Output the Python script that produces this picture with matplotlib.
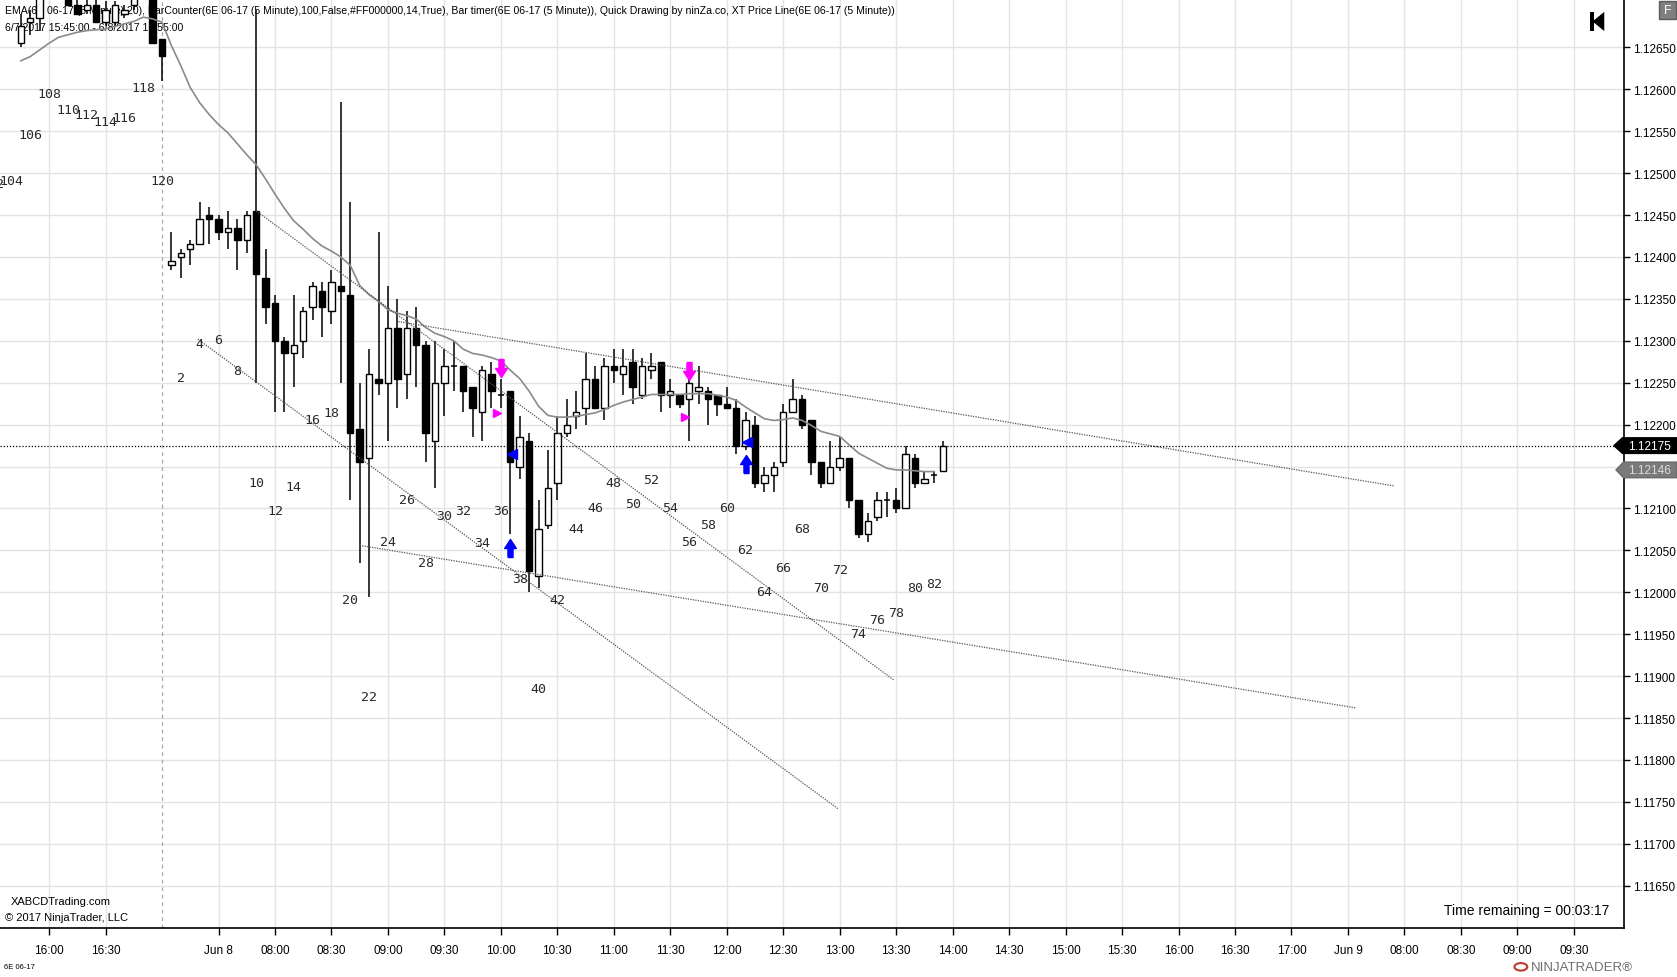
import matplotlib
matplotlib.use("Agg")
import matplotlib.pyplot as plt
import matplotlib.transforms as mtransforms
from matplotlib.patches import Polygon, Rectangle, Circle
from matplotlib.path import Path

# layout measured on the reference (displayed pixels)
W, H = 1568.0, 914.5

# ---- 5 minute bars, 6E 06-17 (bar index 0 = 6/7 15:45, 16 = 6/8 07:05)
opens = [1.12655, 1.12680, 1.12685, 1.12720, 1.12735, 1.12720, 1.12700, 1.12695,
         1.12700, 1.12680, 1.12680, 1.12690, 1.12700, 1.12720, 1.12725, 1.12660,
         1.12390, 1.12400, 1.12410, 1.12415, 1.12450, 1.12445, 1.12430, 1.12435,
         1.12420, 1.12455, 1.12375, 1.12345, 1.12300, 1.12285, 1.12300, 1.12340,
         1.12360, 1.12335, 1.12365, 1.12355, 1.12195, 1.12160, 1.12255, 1.12250,
         1.12315, 1.12260, 1.12315, 1.12295, 1.12180, 1.12250, 1.12270, 1.12270,
         1.12245, 1.12215, 1.12260, 1.12235, 1.12240, 1.12150, 1.12180, 1.12020,
         1.12080, 1.12130, 1.12190, 1.12210, 1.12220, 1.12255, 1.12220, 1.12270,
         1.12260, 1.12275, 1.12235, 1.12265, 1.12275, 1.12235, 1.12235, 1.12230,
         1.12240, 1.12240, 1.12235, 1.12225, 1.12220, 1.12175, 1.12200, 1.12130,
         1.12140, 1.12155, 1.12215, 1.12230, 1.12205, 1.12155, 1.12130, 1.12150,
         1.12160, 1.12110, 1.12070, 1.12090, 1.12110, 1.12110, 1.12100, 1.12160,
         1.12130, 1.12140, 1.12145]
highs = [1.12690, 1.12695, 1.12730, 1.12745, 1.12745, 1.12730, 1.12715, 1.12715,
         1.12715, 1.12705, 1.12705, 1.12700, 1.12730, 1.12740, 1.12740, 1.12660,
         1.12430, 1.12410, 1.12420, 1.12465, 1.12460, 1.12450, 1.12455, 1.12445,
         1.12455, 1.12695, 1.12410, 1.12355, 1.12305, 1.12355, 1.12340, 1.12370,
         1.12370, 1.12385, 1.12585, 1.12465, 1.12250, 1.12290, 1.12430, 1.12365,
         1.12350, 1.12335, 1.12340, 1.12300, 1.12300, 1.12290, 1.12300, 1.12270,
         1.12245, 1.12270, 1.12275, 1.12255, 1.12240, 1.12210, 1.12190, 1.12110,
         1.12170, 1.12210, 1.12230, 1.12240, 1.12285, 1.12270, 1.12280, 1.12290,
         1.12290, 1.12290, 1.12280, 1.12285, 1.12275, 1.12255, 1.12235, 1.12270,
         1.12270, 1.12245, 1.12235, 1.12245, 1.12230, 1.12215, 1.12210, 1.12150,
         1.12155, 1.12225, 1.12255, 1.12235, 1.12205, 1.12155, 1.12180, 1.12185,
         1.12160, 1.12110, 1.12095, 1.12120, 1.12120, 1.12125, 1.12175, 1.12165,
         1.12145, 1.12145, 1.12180]
lows = [1.12650, 1.12665, 1.12670, 1.12715, 1.12715, 1.12700, 1.12690, 1.12690,
        1.12680, 1.12675, 1.12675, 1.12685, 1.12695, 1.12715, 1.12655, 1.12610,
        1.12385, 1.12375, 1.12390, 1.12415, 1.12415, 1.12420, 1.12410, 1.12385,
        1.12405, 1.12250, 1.12320, 1.12215, 1.12215, 1.12245, 1.12280, 1.12325,
        1.12305, 1.12320, 1.12250, 1.12110, 1.12035, 1.11995, 1.12235, 1.12180,
        1.12220, 1.12230, 1.12245, 1.12155, 1.12125, 1.12210, 1.12240, 1.12215,
        1.12185, 1.12180, 1.12220, 1.12220, 1.12070, 1.12135, 1.12000, 1.12005,
        1.12075, 1.12110, 1.12185, 1.12195, 1.12200, 1.12220, 1.12205, 1.12250,
        1.12235, 1.12225, 1.12230, 1.12255, 1.12215, 1.12220, 1.12220, 1.12180,
        1.12225, 1.12200, 1.12210, 1.12220, 1.12165, 1.12170, 1.12125, 1.12120,
        1.12120, 1.12150, 1.12215, 1.12195, 1.12140, 1.12125, 1.12130, 1.12145,
        1.12100, 1.12065, 1.12060, 1.12085, 1.12090, 1.12095, 1.12100, 1.12125,
        1.12130, 1.12130, 1.12145]
closes = [1.12675, 1.12685, 1.12720, 1.12735, 1.12720, 1.12700, 1.12690, 1.12700,
          1.12680, 1.12695, 1.12700, 1.12695, 1.12720, 1.12730, 1.12655, 1.12640,
          1.12395, 1.12405, 1.12415, 1.12445, 1.12445, 1.12430, 1.12435, 1.12420,
          1.12450, 1.12380, 1.12340, 1.12300, 1.12285, 1.12295, 1.12335, 1.12365,
          1.12340, 1.12370, 1.12360, 1.12190, 1.12155, 1.12260, 1.12250, 1.12315,
          1.12255, 1.12315, 1.12295, 1.12190, 1.12250, 1.12270, 1.12270, 1.12240,
          1.12220, 1.12265, 1.12240, 1.12235, 1.12155, 1.12185, 1.12025, 1.12075,
          1.12125, 1.12190, 1.12200, 1.12215, 1.12255, 1.12220, 1.12270, 1.12265,
          1.12270, 1.12245, 1.12270, 1.12270, 1.12235, 1.12240, 1.12225, 1.12250,
          1.12245, 1.12230, 1.12225, 1.12220, 1.12175, 1.12205, 1.12130, 1.12140,
          1.12150, 1.12215, 1.12230, 1.12200, 1.12155, 1.12130, 1.12150, 1.12160,
          1.12110, 1.12070, 1.12085, 1.12110, 1.12110, 1.12100, 1.12165, 1.12130,
          1.12135, 1.12140, 1.12175]

# EMA(20), bars 0..97
ema = [1.12634, 1.12639, 1.12647, 1.12655, 1.12662, 1.12665, 1.12668, 1.12670,
       1.12671, 1.12672, 1.12675, 1.12678, 1.12681, 1.12686, 1.12684, 1.12680,
       1.12652, 1.12628, 1.12602, 1.12584, 1.12570, 1.12558, 1.12548, 1.12535,
       1.12522, 1.12510, 1.12493, 1.12475, 1.12458, 1.12443, 1.12433, 1.12422,
       1.12413, 1.12407, 1.12400, 1.12390, 1.12366, 1.12355, 1.12347, 1.12337,
       1.12333, 1.12330, 1.12326, 1.12316, 1.12309, 1.12305, 1.12300, 1.12290,
       1.12285, 1.12283, 1.12280, 1.12276, 1.12265, 1.12255, 1.12240, 1.12222,
       1.12211, 1.12209, 1.12209, 1.12210, 1.12212, 1.12214, 1.12218, 1.12223,
       1.12227, 1.12230, 1.12233, 1.12236, 1.12236, 1.12236, 1.12236, 1.12237,
       1.12237, 1.12237, 1.12235, 1.12233, 1.12229, 1.12221, 1.12214, 1.12207,
       1.12205, 1.12206, 1.12208, 1.12205, 1.12199, 1.12192, 1.12189, 1.12186,
       1.12176, 1.12166, 1.12160, 1.12154, 1.12148, 1.12146, 1.12146, 1.12145,
       1.12144, 1.12144]

# bar counter labels: (label, bar index, price where the label sits)
count_labels = [102, 104, 106, 108, 110, 112, 114, 116, 118, 120] + list(range(2, 84, 2))
count_bars = [-3, -1, 1, 3, 5, 7, 9, 11, 13, 15] + [n + 15 for n in range(2, 84, 2)]
count_prices = [1.12488, 1.12491, 1.12546, 1.12595, 1.12576, 1.12570, 1.12562, 1.12566,
                1.12602, 1.12491,
                1.12256, 1.12297, 1.12301, 1.12265, 1.12131, 1.12097, 1.12126, 1.12206,
                1.12215, 1.11991, 1.11876, 1.12061, 1.12111, 1.12035, 1.12092, 1.12097,
                1.12060, 1.12097, 1.12016, 1.11885, 1.11991, 1.12076, 1.12101, 1.12131,
                1.12106, 1.12135, 1.12101, 1.12061, 1.12081, 1.12101, 1.12051, 1.12001,
                1.12030, 1.12076, 1.12006, 1.12027, 1.11951, 1.11967, 1.11976, 1.12006,
                1.12010]

# quick drawing objects (bar index, price)
trend_lines = [((25.0, 1.12455), (92.8, 1.11895)),
               ((18.8, 1.12302), (86.8, 1.11742)),
               ((40.1, 1.12323), (145.85, 1.12127)),
               ((36.0, 1.12056), (141.9, 1.11862))]
down_arrows = [(51.0, 1.12268), (71.0, 1.12264)]
up_arrows = [(52.0, 1.12053), (77.0, 1.12153)]
pink_marks = [(50.6, 1.12214), (70.6, 1.12209)]
blue_marks = [(52.2, 1.12165), (77.2, 1.12179)]

last_price = 1.12175
ema_last = 1.12146

time_labels = ['16:00', '16:30', None, 'Jun 8', '08:00', '08:30', '09:00', '09:30',
               '10:00', '10:30', '11:00', '11:30', '12:00', '12:30', '13:00', '13:30',
               '14:00', '14:30', '15:00', '15:30', '16:00', '16:30', '17:00', 'Jun 9',
               '08:00', '08:30', '09:00', '09:30']
session_break = 15

header = ("EMA(6E 06-17 (5 Minute),20), BarCounter(6E 06-17 (5 Minute),100,False,#FF000000,14,True), "
          "Bar timer(6E 06-17 (5 Minute)), Quick Drawing by ninZa.co, XT Price Line(6E 06-17 (5 Minute))")
header2 = "6/7/2017 15:45:00 - 6/8/2017 13:55:00"

UI = ['Liberation Sans', 'DejaVu Sans']
plt.rcParams['font.family'] = UI

fig = plt.figure(figsize=(16.77, 9.78), dpi=100)
fig.patch.set_facecolor('white')
ax = fig.add_axes([0, 1 - 869 / H, 1518 / W, 869 / H])
ax.set_facecolor('white')

ax.set_xlim(-2.216, 170.28)
ax.set_ylim(1.115992, 1.127077)

# grid
price_ticks = [1.1165 + 0.0005 * k for k in range(21)]
for p in price_ticks:
    ax.axhline(p, color='#e3e3e3', lw=1.0, zorder=0)
tick_pos, tick_txt = [], []
for k, lab in enumerate(time_labels):
    b = 3 + 6 * k
    if lab is None:
        continue
    tick_pos.append(b)
    tick_txt.append(lab)
    ax.axvline(b, color='#e3e3e3', lw=1.0, zorder=0)
ax.axvline(session_break, color='#a8a8a8', lw=0.9, ls=(0, (3, 3)), zorder=0.5)

# candles
bw = 0.68
for i, (o, h, l, c) in enumerate(zip(opens, highs, lows, closes)):
    ax.vlines(i, l, h, color='black', lw=1.1, zorder=3)
    if abs(c - o) < 1e-9:
        ax.hlines(o, i - bw / 2, i + bw / 2, color='black', lw=1.1, zorder=4)
    else:
        fc = 'white' if c > o else 'black'
        ax.add_patch(Rectangle((i - bw / 2, min(o, c)), bw, abs(c - o),
                               facecolor=fc, edgecolor='black', lw=1.0, zorder=4))

# EMA
ax.plot(range(len(ema)), ema, color='#8a8a8a', lw=1.2, zorder=5)

# trend lines
for (x0, y0), (x1, y1) in trend_lines:
    ax.plot([x0, x1], [y0, y1], color='#555555', lw=0.9, ls=(0, (1, 1)), zorder=5)

# price line
ax.axhline(last_price, color='black', lw=0.9, ls=(0, (1, 1.5)), zorder=5)

# markers
down = Path([(-0.28, 1), (0.28, 1), (0.28, 0), (0.65, 0), (0, -1), (-0.65, 0), (-0.28, 0), (-0.28, 1)])
up = Path([(-0.28, -1), (0.28, -1), (0.28, 0), (0.65, 0), (0, 1), (-0.65, 0), (-0.28, 0), (-0.28, -1)])
ax.plot([a for a, _ in down_arrows], [b for _, b in down_arrows], ls='none', marker=down,
        ms=13, color='#ff00ff', mec='#ff00ff', zorder=6)
ax.plot([a for a, _ in up_arrows], [b for _, b in up_arrows], ls='none', marker=up,
        ms=13, color='#0000ff', mec='#0000ff', zorder=6)
ax.plot([a for a, _ in pink_marks], [b for _, b in pink_marks], ls='none', marker='>',
        ms=6, color='#ff00ff', mec='#ff00ff', zorder=6)
ax.plot([a for a, _ in blue_marks], [b for _, b in blue_marks], ls='none', marker='<',
        ms=7, color='#0000ff', mec='#0000ff', zorder=6)

# bar counter
for n, b, p in zip(count_labels, count_bars, count_prices):
    ax.text(b, p, str(n), ha='center', va='center', fontsize=9.5,
            family=['DejaVu Sans Mono'], color='#2a2a2a', zorder=6, clip_on=True)

# axes styling
for s in ['top', 'left']:
    ax.spines[s].set_visible(False)
ax.spines['right'].set_linewidth(1.2)
ax.spines['bottom'].set_linewidth(1.2)
ax.yaxis.tick_right()
ax.set_yticks(price_ticks)
# the 1.12150 label sits under the EMA value box
ax.set_yticklabels(['' if abs(p - 1.1215) < 1e-7 else '%.5f' % p for p in price_ticks])
ax.set_xticks(tick_pos)
ax.set_xticklabels(tick_txt)
ax.tick_params(axis='y', direction='out', length=4, width=1, labelsize=8.5, pad=3)
ax.tick_params(axis='x', direction='out', length=5, width=1, labelsize=8.5, pad=6)

# price axis markers
bt = mtransforms.blended_transform_factory(fig.transFigure, ax.transData)
hp = 7.3 / 78400
ax.add_patch(Polygon([(1509 / W, last_price), (1517 / W, last_price + hp), (1568 / W, last_price + hp),
                      (1568 / W, last_price - hp), (1517 / W, last_price - hp)],
                     closed=True, facecolor='black', edgecolor='black', transform=bt,
                     clip_on=False, zorder=10))
fig.text(1522 / W, last_price, '%.5f' % last_price, transform=bt, color='white', fontsize=8.5,
         va='center', ha='left', zorder=11)
ax.add_patch(Polygon([(1511 / W, ema_last), (1518 / W, ema_last + hp), (1568 / W, ema_last + hp),
                      (1568 / W, ema_last - hp), (1518 / W, ema_last - hp)],
                     closed=True, facecolor='#7a7a7a', edgecolor='#6a6a6a', transform=bt,
                     clip_on=False, zorder=10))
fig.text(1522 / W, ema_last, '%.5f' % ema_last, transform=bt, color='#dcdcdc', fontsize=8.5,
         va='center', ha='left', zorder=11)

# header texts (under the bars)
ax.text(5 / 1518, 1 - 10 / 869, header, transform=ax.transAxes, fontsize=7.6,
        va='center', ha='left', color='black', zorder=1)
ax.text(5 / 1518, 1 - 26 / 869, header2, transform=ax.transAxes, fontsize=7.6,
        va='center', ha='left', color='black', zorder=1)
ax.text(10 / 1518, 1 - 843 / 869, 'XABCDTrading.com', transform=ax.transAxes, fontsize=8,
        va='center', ha='left', color='black', zorder=1)
ax.text(5 / 1518, 1 - 858 / 869, '\u00a9 2017 NinjaTrader, LLC', transform=ax.transAxes,
        fontsize=8, va='center', ha='left', color='black', zorder=1)
ax.text(1505 / 1518, 1 - 852 / 869, 'Time remaining = 00:03:17', transform=ax.transAxes,
        fontsize=10, va='center', ha='right', color='black', zorder=1)

# top-right controls
fig.patches.append(Rectangle((1487 / W, 1 - 30 / H), 3 / W, 18 / H, transform=fig.transFigure,
                             facecolor='black', edgecolor='none'))
fig.patches.append(Polygon([(1489 / W, 1 - 21 / H), (1500 / W, 1 - 12 / H), (1500 / W, 1 - 30 / H)],
                           closed=True, transform=fig.transFigure, facecolor='black', edgecolor='none'))
fig.patches.append(Rectangle((1551 / W, 1 - 19 / H), 16 / W, 17 / H, transform=fig.transFigure,
                             facecolor='#808080', edgecolor='#5c5c5c', lw=1))
fig.text(1559 / W, 1 - 10.5 / H, 'F', color='white', fontsize=9, ha='center', va='center')

# footer
fig.text(4 / W, 1 - 905 / H, '6E 06-17', fontsize=5.5, ha='left', va='center', color='black')
fig.patches.append(Circle((1422 / W, 1 - 905 / H), 6 / W, transform=fig.transFigure,
                          facecolor='none', edgecolor='#c0392b', lw=1.5))
fig.text(1431 / W, 1 - 905 / H, 'NINJATRADER\u00ae', fontsize=9.5, ha='left', va='center',
         color='#6e6e6e')

fig.savefig('out.png', dpi=100, facecolor='white')
